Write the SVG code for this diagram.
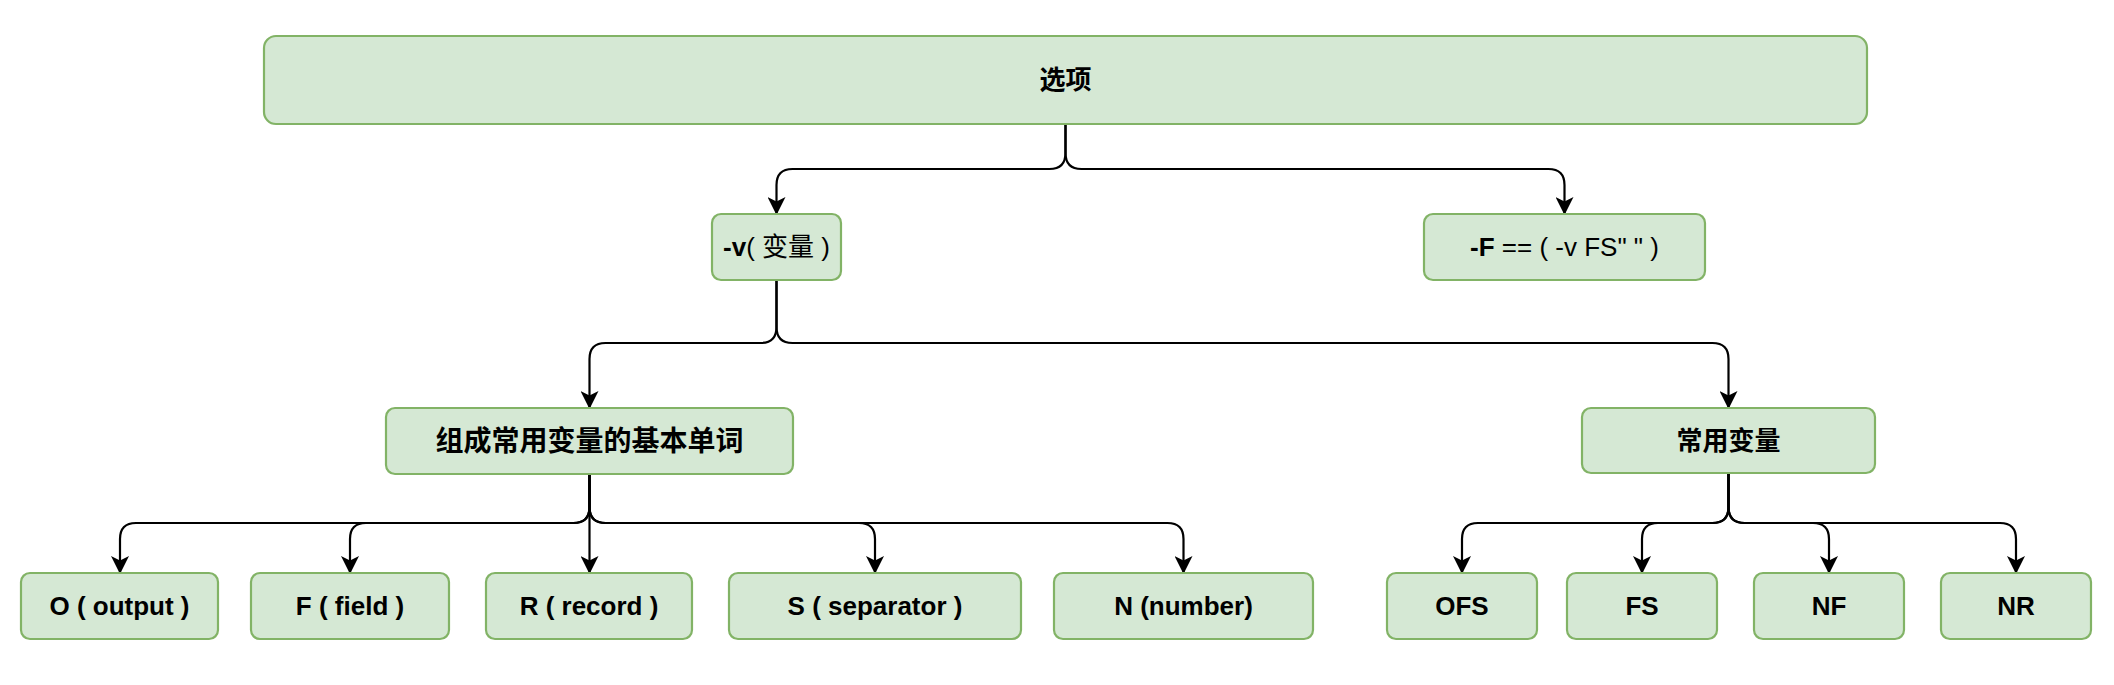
<svg xmlns="http://www.w3.org/2000/svg" width="2114" height="685" viewBox="0 0 2114 685">
<style>
.box{fill:#d5e8d4;stroke:#82b366;stroke-width:2.2}
.t{font-family:"Liberation Sans","Noto Sans CJK SC",sans-serif;font-size:26px;fill:#000;text-anchor:middle}
.b{font-weight:bold}
.e{fill:none;stroke:#000;stroke-width:2.2;marker-end:url(#arr)}
</style>
<defs>
<marker id="arr" markerUnits="userSpaceOnUse" markerWidth="18" markerHeight="18" viewBox="0 0 18 18" refX="17" refY="9" orient="auto">
<path d="M0,0 L18,9 L0,18 L4.5,9 Z" fill="#000"/>
</marker>
</defs>
<g id="connectors">
<path class="e" d="M1065.5 124 V153 Q1065.5 169 1049.5 169 H792.5 Q776.5 169 776.5 185 V214"/>
<path class="e" d="M1065.5 124 V153 Q1065.5 169 1081.5 169 H1548.5 Q1564.5 169 1564.5 185 V214"/>
<path class="e" d="M776.5 280 V327 Q776.5 343 760.5 343 H605.5 Q589.5 343 589.5 359 V408"/>
<path class="e" d="M776.5 280 V327 Q776.5 343 792.5 343 H1712.5 Q1728.5 343 1728.5 359 V408"/>
<path class="e" d="M589.5 474 V507 Q589.5 523 573.5 523 H136 Q120 523 120 539 V573"/>
<path class="e" d="M589.5 474 V507 Q589.5 523 573.5 523 H366 Q350 523 350 539 V573"/>
<path class="e" d="M589.5 474 V573"/>
<path class="e" d="M589.5 474 V507 Q589.5 523 605.5 523 H859 Q875 523 875 539 V573"/>
<path class="e" d="M589.5 474 V507 Q589.5 523 605.5 523 H1167.5 Q1183.5 523 1183.5 539 V573"/>
<path class="e" d="M1728.5 473 V507 Q1728.5 523 1712.5 523 H1478 Q1462 523 1462 539 V573"/>
<path class="e" d="M1728.5 473 V507 Q1728.5 523 1712.5 523 H1658 Q1642 523 1642 539 V573"/>
<path class="e" d="M1728.5 473 V507 Q1728.5 523 1744.5 523 H1813 Q1829 523 1829 539 V573"/>
<path class="e" d="M1728.5 473 V507 Q1728.5 523 1744.5 523 H2000 Q2016 523 2016 539 V573"/>
</g>
<g id="n-options">
<rect class="box" x="264" y="36" width="1603" height="88" rx="12"/>
<text class="t b" x="1065.5" y="89">选项</text>
</g>
<g id="n-v">
<rect class="box" x="712" y="214" width="129" height="66" rx="9"/>
<text class="t" x="776.5" y="256"><tspan class="b">-v</tspan>( 变量 )</text>
</g>
<g id="n-F">
<rect class="box" x="1424" y="214" width="281" height="66" rx="9"/>
<text class="t" x="1564.5" y="256"><tspan class="b">-F</tspan> == ( -v FS" " )</text>
</g>
<g id="n-basic">
<rect class="box" x="386" y="408" width="407" height="66" rx="9"/>
<text class="t b" x="589.5" y="451" style="font-size:28px">组成常用变量的基本单词</text>
</g>
<g id="n-common">
<rect class="box" x="1582" y="408" width="293" height="65" rx="9"/>
<text class="t b" x="1728.5" y="450">常用变量</text>
</g>
<g id="n-O">
<rect class="box" x="21" y="573" width="197" height="66" rx="9"/>
<text class="t b" x="119.5" y="615">O ( output )</text>
</g>
<g id="n-Fd">
<rect class="box" x="251" y="573" width="198" height="66" rx="9"/>
<text class="t b" x="350" y="615">F ( field )</text>
</g>
<g id="n-R">
<rect class="box" x="486" y="573" width="206" height="66" rx="9"/>
<text class="t b" x="589" y="615">R ( record )</text>
</g>
<g id="n-S">
<rect class="box" x="729" y="573" width="292" height="66" rx="9"/>
<text class="t b" x="875" y="615">S ( separator )</text>
</g>
<g id="n-N">
<rect class="box" x="1054" y="573" width="259" height="66" rx="9"/>
<text class="t b" x="1183.5" y="615">N (number)</text>
</g>
<g id="n-OFS">
<rect class="box" x="1387" y="573" width="150" height="66" rx="9"/>
<text class="t b" x="1462" y="615">OFS</text>
</g>
<g id="n-FS">
<rect class="box" x="1567" y="573" width="150" height="66" rx="9"/>
<text class="t b" x="1642" y="615">FS</text>
</g>
<g id="n-NF">
<rect class="box" x="1754" y="573" width="150" height="66" rx="9"/>
<text class="t b" x="1829" y="615">NF</text>
</g>
<g id="n-NR">
<rect class="box" x="1941" y="573" width="150" height="66" rx="9"/>
<text class="t b" x="2016" y="615">NR</text>
</g>
</svg>
